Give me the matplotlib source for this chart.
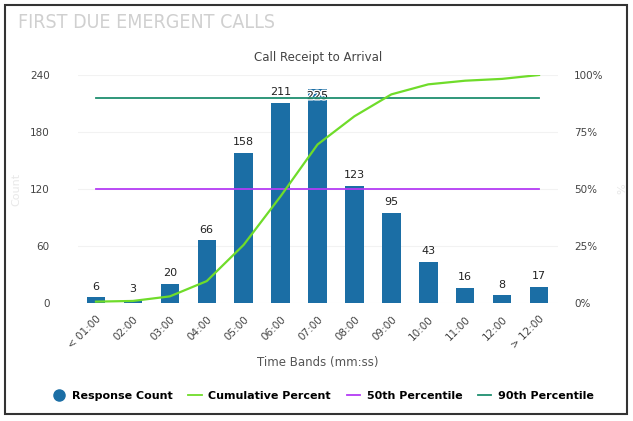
import numpy as np
import matplotlib.pyplot as plt
import matplotlib.patheffects as pe
from matplotlib.patches import Rectangle
from matplotlib.lines import Line2D

# Data
bands = ['< 01:00', '02:00', '03:00', '04:00', '05:00', '06:00', '07:00',
         '08:00', '09:00', '10:00', '11:00', '12:00', '> 12:00']
counts = [6, 3, 20, 66, 158, 211, 225, 123, 95, 43, 16, 8, 17]
cum_pct = [0.6, 0.9, 2.9, 9.6, 25.5, 46.8, 69.5, 81.9, 91.5, 95.9, 97.5, 98.3, 100.0]
p50 = 50
p90 = 90

bar_col = '#1b6ea5'
line_col = '#6fdc2a'
p50_col = '#b43cf5'
p90_col = '#1f8f6f'

fig = plt.figure(figsize=(6.33, 4.21), dpi=100)
fig.patches.append(Rectangle((5 / 633, 1 - 414 / 421), 622 / 633, 409 / 421,
                             transform=fig.transFigure, fill=False,
                             edgecolor='#333333', linewidth=1.5))

ax = fig.add_axes([77.5 / 633, 1 - 303 / 421, 480 / 633, 228 / 421])
x = np.arange(len(bands))
ax.bar(x, counts, width=0.5, color=bar_col, zorder=2)
ax.set_xlim(-0.5, len(bands) - 0.5)
ax.set_ylim(0, 240)
ax.set_yticks([0, 60, 120, 180, 240])
ax.set_xticks(x)
ax.set_xticklabels(bands, rotation=45, ha='right', rotation_mode='anchor')
ax.tick_params(axis='both', length=0, labelsize=7.5, colors='#444444', pad=8)
ax.tick_params(axis='y', pad=20)
for s in ax.spines.values():
    s.set_visible(False)
ax.grid(axis='y', color='#f2f2f2', linewidth=0.8, zorder=0)

for i, v in enumerate(counts):
    if v == max(counts):
        ax.text(i, v - 2, str(v), ha='center', va='top', fontsize=8, color='#222222', zorder=5,
                path_effects=[pe.withStroke(linewidth=2, foreground='white')])
    else:
        ax.text(i, v + 6, str(v), ha='center', va='bottom', fontsize=8, color='#222222')

ax2 = ax.twinx()
ax2.set_ylim(0, 100)
ax2.plot(x, cum_pct, color=line_col, linewidth=1.6, zorder=3)
ax2.plot([x[0], x[-1]], [p50, p50], color=p50_col, linewidth=1.3)
ax2.plot([x[0], x[-1]], [p90, p90], color=p90_col, linewidth=1.3)
ax2.set_yticks([0, 25, 50, 75, 100])
ax2.set_yticklabels(['0%', '25%', '50%', '75%', '100%'])
ax2.tick_params(axis='y', length=0, labelsize=7.5, colors='#444444', pad=12)
for s in ax2.spines.values():
    s.set_visible(False)

ax.set_xlabel('Time Bands (mm:ss)', fontsize=8.5, color='#555555', labelpad=4)
ax.set_ylabel('Count', fontsize=8, color='#e8e8e8', labelpad=6)
ax2.set_ylabel('%', fontsize=8, color='#e8e8e8', labelpad=10)

fig.text(18 / 633, 1 - 22 / 421, 'FIRST DUE EMERGENT CALLS', fontsize=14,
         color='#d0d0d0', va='center', ha='left', fontstretch='condensed')
fig.text(318 / 633, 1 - 57 / 421, 'Call Receipt to Arrival', fontsize=8.5,
         color='#444444', va='center', ha='center')

handles = [
    Line2D([], [], marker='o', linestyle='none', markersize=8, color=bar_col),
    Line2D([], [], color=line_col, linewidth=1.3),
    Line2D([], [], color=p50_col, linewidth=1.3),
    Line2D([], [], color=p90_col, linewidth=1.3),
]
labels = ['Response Count', 'Cumulative Percent', '50th Percentile', '90th Percentile']
fig.legend(handles, labels, loc='center', bbox_to_anchor=(0.51, 1 - 396 / 421), ncol=4,
           frameon=False, handlelength=1.2, columnspacing=1.4, handletextpad=0.6,
           prop={'size': 8, 'weight': 'bold'})

fig.savefig('out.png', dpi=100)
